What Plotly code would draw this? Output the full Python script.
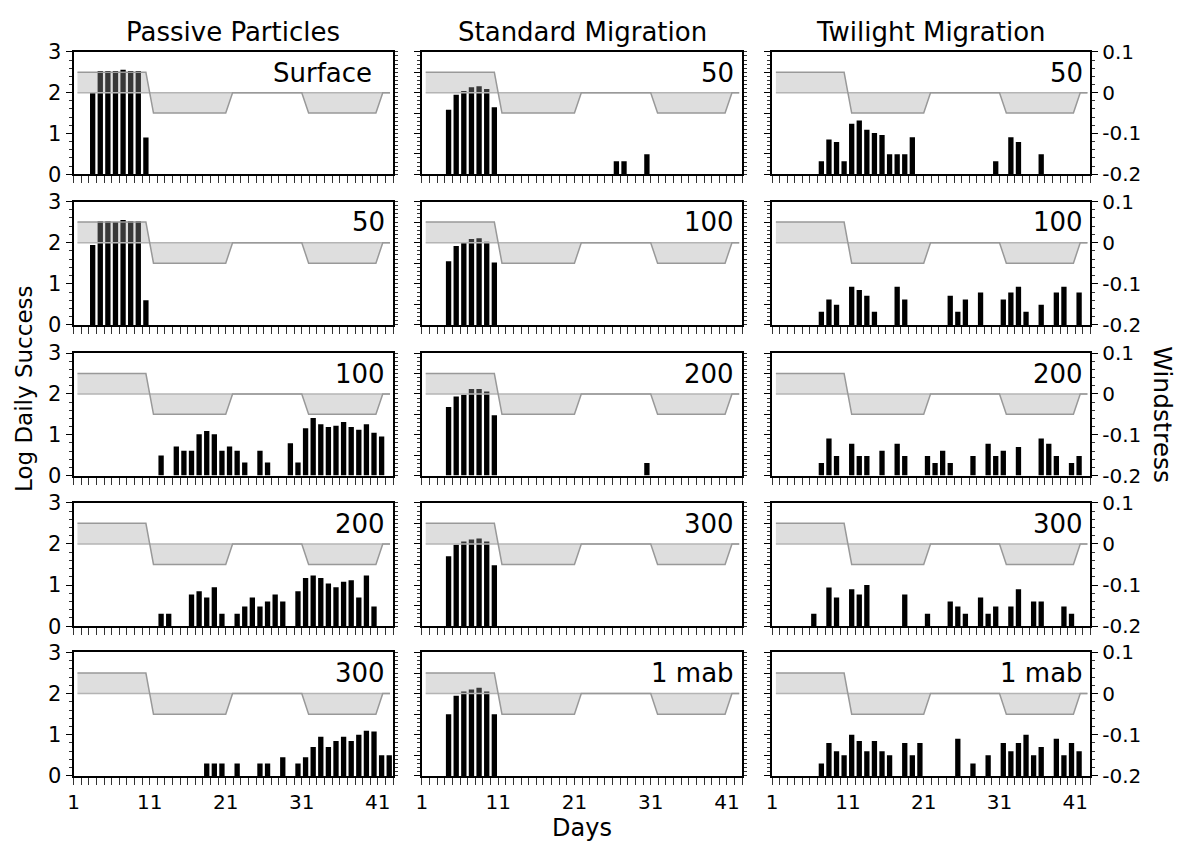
import numpy as np
import plotly.graph_objects as go

W, H = 1183, 853
FONT = "DejaVu Sans, Liberation Sans, Arial, sans-serif"

# ---- data ---------------------------------------------------------------
# Daily windstress forcing (day, N m^-2) shown as the shaded band
wind_day = [1.5, 10.5, 11.5, 21.0, 21.9, 31.0, 31.9, 40.75, 41.65, 42.6]
wind_stress = [0.05, 0.05, -0.05, -0.05, 0.0, 0.0, -0.05, -0.05, 0.0, 0.0]

column_titles = ["Passive Particles", "Standard Migration", "Twilight Migration"]
passive_labels = ["Surface", "50", "100", "200", "300"]
standard_labels = ["50", "100", "200", "300", "1 mab"]
twilight_labels = ["50", "100", "200", "300", "1 mab"]
x_tick_labels = ["1", "11", "21", "31", "41"]

# log daily success per release day (day -> value)
passive_surface = {3: 2.0, 4: 2.53, 5: 2.53, 6: 2.53, 7: 2.56, 8: 2.53, 9: 2.53, 10: 0.9}
passive_50 = {3: 1.94, 4: 2.52, 5: 2.52, 6: 2.5, 7: 2.55, 8: 2.52, 9: 2.52, 10: 0.6}
passive_100 = {12: 0.49, 14: 0.71, 15: 0.61, 16: 0.61, 17: 1.01, 18: 1.09, 19: 1.01,
               20: 0.61, 21: 0.71, 22: 0.61, 23: 0.32, 25: 0.61, 26: 0.32, 29: 0.79,
               30: 0.32, 31: 1.16, 32: 1.41, 33: 1.26, 34: 1.19, 35: 1.22, 36: 1.31,
               37: 1.19, 38: 1.12, 39: 1.26, 40: 1.05, 41: 0.96}
passive_200 = {12: 0.3, 13: 0.3, 16: 0.77, 17: 0.85, 18: 0.7, 19: 0.95, 20: 0.3,
               22: 0.3, 23: 0.48, 24: 0.7, 25: 0.48, 26: 0.6, 27: 0.77, 28: 0.6,
               30: 0.85, 31: 1.17, 32: 1.23, 33: 1.17, 34: 1.04, 35: 0.95, 36: 1.08,
               37: 1.12, 38: 0.7, 39: 1.23, 40: 0.48}
passive_300 = {18: 0.3, 19: 0.3, 20: 0.3, 22: 0.3, 25: 0.3, 26: 0.3, 28: 0.45,
               30: 0.3, 31: 0.45, 32: 0.7, 33: 0.95, 34: 0.7, 35: 0.85, 36: 0.95,
               37: 0.85, 38: 1.0, 39: 1.1, 40: 1.08, 41: 0.5, 42: 0.5}

standard_50 = {4: 1.58, 5: 1.95, 6: 2.04, 7: 2.13, 8: 2.16, 9: 2.09, 10: 1.64,
               26: 0.32, 27: 0.32, 30: 0.49}
standard_100 = {4: 1.55, 5: 1.92, 6: 2.0, 7: 2.09, 8: 2.11, 9: 2.02, 10: 1.52}
standard_200 = {4: 1.68, 5: 1.94, 6: 1.98, 7: 2.12, 8: 2.12, 9: 2.06, 10: 1.48, 30: 0.31}
standard_300 = {4: 1.7, 5: 1.98, 6: 2.06, 7: 2.11, 8: 2.13, 9: 2.06, 10: 1.48}
standard_1mab = {4: 1.5, 5: 1.95, 6: 2.05, 7: 2.1, 8: 2.14, 9: 2.05, 10: 1.5}

twilight_50 = {7: 0.32, 8: 0.85, 9: 0.79, 10: 0.32, 11: 1.24, 12: 1.32, 13: 1.09,
               14: 1.01, 15: 0.96, 16: 0.49, 17: 0.49, 18: 0.49, 19: 0.91,
               30: 0.32, 32: 0.91, 33: 0.79, 36: 0.49}
twilight_100 = {7: 0.32, 8: 0.62, 9: 0.49, 11: 0.93, 12: 0.85, 13: 0.71, 14: 0.32,
                17: 0.93, 18: 0.62, 24: 0.71, 25: 0.32, 26: 0.62, 28: 0.79,
                31: 0.62, 32: 0.79, 33: 0.93, 34: 0.32, 36: 0.49, 38: 0.79,
                39: 0.93, 41: 0.79}
twilight_200 = {7: 0.31, 8: 0.91, 9: 0.48, 11: 0.78, 12: 0.48, 13: 0.48, 15: 0.61,
                17: 0.78, 18: 0.48, 21: 0.48, 22: 0.31, 23: 0.61, 24: 0.31,
                27: 0.48, 29: 0.78, 30: 0.48, 31: 0.61, 33: 0.7, 36: 0.91,
                37: 0.78, 38: 0.48, 40: 0.31, 41: 0.48}
twilight_300 = {6: 0.3, 8: 0.94, 9: 0.7, 11: 0.9, 12: 0.77, 13: 1.0, 18: 0.77,
                21: 0.3, 24: 0.6, 25: 0.48, 26: 0.3, 28: 0.7, 29: 0.3, 30: 0.48,
                32: 0.48, 33: 0.9, 35: 0.6, 36: 0.6, 39: 0.48, 40: 0.3}
twilight_1mab = {7: 0.3, 8: 0.8, 9: 0.6, 10: 0.5, 11: 1.0, 12: 0.85, 13: 0.6,
                 14: 0.85, 15: 0.6, 16: 0.5, 18: 0.8, 19: 0.5, 20: 0.8, 25: 0.9,
                 27: 0.3, 29: 0.5, 31: 0.8, 32: 0.6, 33: 0.8, 34: 1.0, 35: 0.5,
                 36: 0.7, 38: 0.9, 39: 0.5, 40: 0.8, 41: 0.6}

panels = [
    [passive_surface, standard_50, twilight_50],
    [passive_50, standard_100, twilight_100],
    [passive_100, standard_200, twilight_200],
    [passive_200, standard_300, twilight_300],
    [passive_300, standard_1mab, twilight_1mab],
]
panel_labels = [list(t) for t in zip(passive_labels, standard_labels, twilight_labels)]

# ---- geometry (pixels) --------------------------------------------------
col_px = [(68, 389), (418, 740), (770, 1090)]
row_px = [(41, 167), (195, 322), (351, 477), (505, 632), (659, 786)]


def px_x(x):
    return x / W


def px_y(y):
    return 1 - y / H


fig = go.Figure()
layout = dict(
    width=W, height=H, margin=dict(l=0, r=0, t=0, b=0),
    paper_bgcolor="white", plot_bgcolor="rgba(0,0,0,0)",
    showlegend=False, font=dict(family=FONT, color="black"),
    annotations=[],
)

day_ticks = list(range(1, 44))
bottom_text = [str(d) if str(d) in x_tick_labels else "" for d in day_ticks]

for r in range(5):
    for c in range(3):
        idx = r * 3 + c + 1
        xs = "" if idx == 1 else str(idx)
        xname, yname, y2name = f"x{xs}", f"y{xs}", f"y{idx + 15}"
        x0, x1 = col_px[c]
        y0, y1 = row_px[r]

        layout[f"xaxis{xs}"] = dict(
            domain=[px_x(x0), px_x(x1)], range=[1, 43], anchor=yname,
            tickmode="array", tickvals=day_ticks, ticktext=bottom_text,
            showticklabels=(r == 4), tickfont=dict(size=20),
            ticks="outside", ticklen=7, tickwidth=1, tickcolor="#333",
            showline=True, linewidth=2, linecolor="black", mirror=True,
            showgrid=False, zeroline=False,
        )
        if c == 0:
            ymaj, ymin = [0, 1, 2, 3], list(np.round(np.arange(0, 3.01, 0.2), 2))
        else:
            ymaj, ymin = [0, 0.5, 1, 1.5, 2, 2.5, 3], list(np.round(np.arange(0, 3.01, 0.1), 2))
        layout[f"yaxis{xs}"] = dict(
            domain=[px_y(y1), px_y(y0)], range=[0, 3], anchor=xname,
            tickmode="array", tickvals=ymaj, ticktext=[f"{v:g}" for v in ymaj],
            showticklabels=(c == 0), tickfont=dict(size=21),
            ticks="outside", ticklen=6, tickwidth=1.2, tickcolor="black",
            minor=dict(tickmode="array", tickvals=ymin, ticks="outside",
                       ticklen=3, tickwidth=1, tickcolor="#333"),
            showline=True, linewidth=2, linecolor="black",
            showgrid=False, zeroline=False,
        )
        if c == 2:
            wmaj = [-0.2, -0.1, 0.0, 0.1]
            wmin = list(np.round(np.arange(-0.2, 0.101, 0.02), 3))
        else:
            wmaj = [-0.2, -0.15, -0.1, -0.05, 0.0, 0.05, 0.1]
            wmin = list(np.round(np.arange(-0.2, 0.101, 0.01), 3))
        layout[f"yaxis{idx + 15}"] = dict(
            overlaying=yname, side="right", anchor=xname, range=[-0.2, 0.1],
            tickmode="array", tickvals=wmaj,
            ticktext=["-0.2", "-0.1", "0", "0.1"] if c == 2 else [""] * len(wmaj),
            showticklabels=(c == 2), tickfont=dict(size=20),
            ticks="outside", ticklen=6, tickwidth=1.2, tickcolor="black",
            minor=dict(tickmode="array", tickvals=wmin, ticks="outside",
                       ticklen=3, tickwidth=1, tickcolor="#333"),
            showline=True, linewidth=1.5, linecolor="black",
            showgrid=False, zeroline=False,
        )

        data = panels[r][c]
        days = sorted(data)
        fig.add_trace(go.Bar(
            x=[d + 0.5 for d in days], y=[data[d] for d in days], width=0.7,
            marker=dict(color="black", line=dict(width=0)),
            xaxis=xname, yaxis=yname, hoverinfo="skip",
        ))
        # windstress band: zero line, then forcing filled back to zero
        fig.add_trace(go.Scatter(
            x=[wind_day[0], wind_day[-1]], y=[0, 0], mode="lines",
            line=dict(color="#b4b4b4", width=1.5),
            xaxis=xname, yaxis=y2name, hoverinfo="skip",
        ))
        fig.add_trace(go.Scatter(
            x=wind_day, y=wind_stress, mode="lines", fill="tonexty",
            fillcolor="rgba(160,160,160,0.35)",
            line=dict(color="#999999", width=1.5),
            xaxis=xname, yaxis=y2name, hoverinfo="skip",
        ))

        inset = 19 if panel_labels[r][c] == "Surface" else 6
        layout["annotations"].append(dict(
            text=panel_labels[r][c], xref="paper", yref="paper",
            x=px_x(x1 - inset), y=px_y(y0 + 21.5), xanchor="right", yanchor="middle",
            showarrow=False, font=dict(size=26, family=FONT),
        ))

for c, title in enumerate(column_titles):
    x0, x1 = col_px[c]
    layout["annotations"].append(dict(
        text=title, xref="paper", yref="paper", x=px_x((x0 + x1) / 2), y=px_y(21),
        xanchor="center", yanchor="middle", showarrow=False, font=dict(size=26),
    ))

layout["annotations"] += [
    dict(text="Log Daily Success", xref="paper", yref="paper", x=px_x(18), y=px_y(388),
         xanchor="center", yanchor="middle", textangle=-90, showarrow=False,
         font=dict(size=23)),
    dict(text="Windstress", xref="paper", yref="paper", x=px_x(1163), y=px_y(414),
         xanchor="center", yanchor="middle", textangle=90, showarrow=False,
         font=dict(size=25)),
    dict(text="Days", xref="paper", yref="paper", x=px_x(579), y=px_y(840),
         xanchor="center", yanchor="middle", showarrow=False, font=dict(size=24)),
]

fig.update_layout(**layout)
fig.write_html("out.html")
